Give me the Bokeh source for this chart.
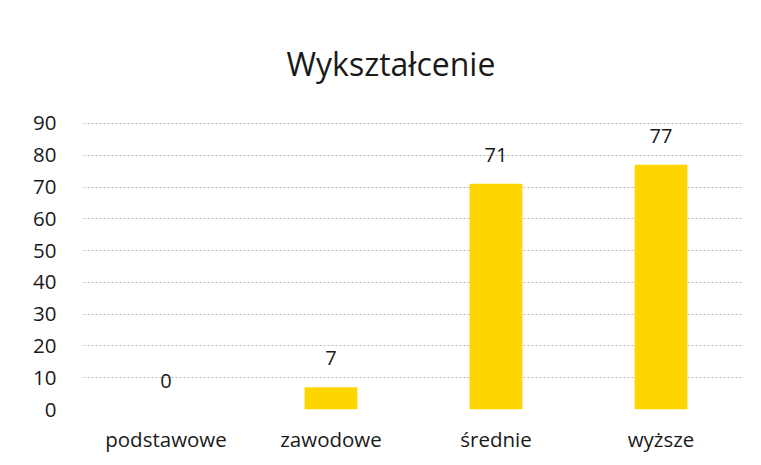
from bokeh.plotting import figure
from bokeh.models import ColumnDataSource, LabelSet, Range1d, FactorRange
from bokeh.core.properties import value
from bokeh.embed import file_html
from bokeh.resources import INLINE

categories = ["podstawowe", "zawodowe", "średnie", "wyższe"]
values = [0, 7, 71, 77]
labels = [str(v) for v in values]
y_ticks = [0, 10, 20, 30, 40, 50, 60, 70, 80, 90]

FONT = "Open Sans"

source = ColumnDataSource(data=dict(cat=categories, val=values, lab=labels))

p = figure(
    x_range=FactorRange(*categories, range_padding=0),
    y_range=Range1d(0, 90.3),
    width=745, height=455,
    output_backend="svg", toolbar_location=None,
    min_border_left=83, min_border_right=2,
    min_border_top=122, min_border_bottom=44,
    title="Wykształcenie",
)
p.outline_line_color = None
p.background_fill_color = "white"
p.border_fill_color = "white"

p.title.text_font = FONT
p.title.text_font_size = "32px"
p.title.text_font_style = "normal"
p.title.text_color = "#1a1a1a"
p.title.align = "left"
p.title.offset = 203
p.title.standoff = 76

p.vbar(x="cat", top="val", width=0.32, source=source,
       fill_color="#FFD500", line_color=None)

p.add_layout(LabelSet(x="cat", y="val", text="lab", source=source,
                      y_offset=22, text_align="center", text_baseline="bottom",
                      text_font=value(FONT), text_font_size=value("20px"),
                      text_color="#1a1a1a"))

p.xgrid.grid_line_color = None
p.ygrid.grid_line_color = "#b8b8b8"
p.ygrid.grid_line_dash = "2 2"
p.ygrid.grid_line_width = 1
p.yaxis.ticker = y_ticks

for ax in (p.xaxis, p.yaxis):
    ax.axis_line_color = None
    ax.major_tick_line_color = None
    ax.minor_tick_line_color = None
    ax.major_label_text_font = FONT
    ax.major_label_text_font_size = "20.5px"
    ax.major_label_text_color = "#1a1a1a"

p.yaxis.major_label_standoff = 21
p.xaxis.major_label_standoff = 9

open("out.html", "w").write(file_html(p, INLINE))
